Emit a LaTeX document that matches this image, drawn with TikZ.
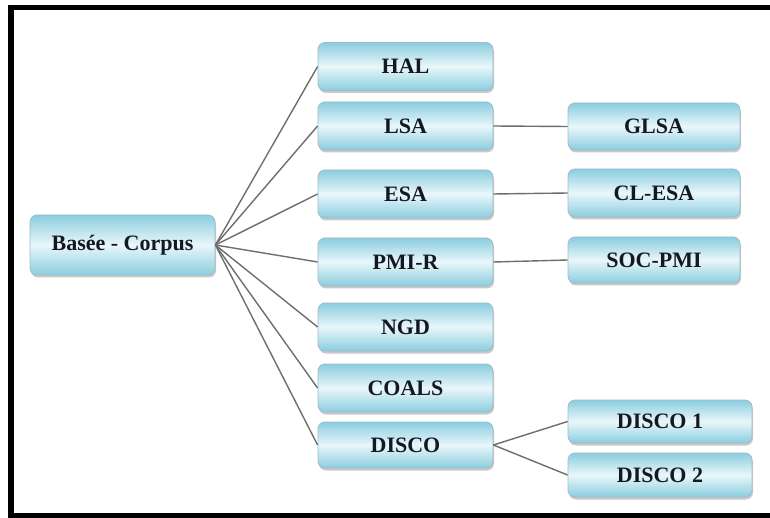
\documentclass[tikz,border=0pt]{standalone}
\usepackage{fontspec}
\setmainfont{Liberation Serif}
\usetikzlibrary{shadows}
\definecolor{boxedge}{HTML}{8ACDDF}
\definecolor{boxmid}{HTML}{E9F7FA}
\definecolor{boxline}{HTML}{9DBCC6}
\definecolor{linkgray}{HTML}{6E6E6E}
\definecolor{labelink}{HTML}{151822}
\tikzset{
  termbox/.style={draw=boxline, line width=0.8pt, rounded corners=7pt,
    top color=boxedge, bottom color=boxedge, middle color=boxmid,
    drop shadow={shadow xshift=1pt, shadow yshift=-2.5pt, opacity=0.35, fill=black!60},
    text=labelink, font=\fontsize{22}{25}\selectfont\bfseries,
    inner sep=0pt, minimum width=175pt, minimum height=48pt},
  link/.style={draw=linkgray, line width=1.4pt}
}
\begin{document}
\begin{tikzpicture}[x=1pt,y=-1pt]
  \useasboundingbox (0,0) rectangle (770,518);
  \clip (0,0) rectangle (770,518);
  \fill[white] (0,0) rectangle (770,518);
  % outer frame, open on the right
  \draw[line width=5.5pt, black] (800,7.5) -- (11,7.5) -- (11,515.5) -- (800,515.5);

  % root
  \node[termbox, minimum width=185pt, minimum height=60pt] (root) at (122.5,245) {Basée - Corpus};

  % first level
  \node[termbox] (hal)   at (405.5,66.5) {HAL};
  \node[termbox] (lsa)   at (405.5,126)  {LSA};
  \node[termbox] (esa)   at (405.5,194)  {ESA};
  \node[termbox] (pmir)  at (405.5,262)  {PMI-R};
  \node[termbox] (ngd)   at (405.5,327)  {NGD};
  \node[termbox] (coals) at (405.5,388)  {COALS};
  \node[termbox, minimum height=46pt] (disco) at (405.5,445) {DISCO};

  % second level
  \node[termbox, minimum width=172pt, minimum height=47pt] (glsa)   at (654,126.5) {GLSA};
  \node[termbox, minimum width=172pt] (clesa)  at (654,193)   {CL-ESA};
  \node[termbox, minimum width=172pt, minimum height=46pt] (socpmi) at (654,260)   {SOC-PMI};
  \node[termbox, minimum width=184pt, minimum height=43pt] (disco1) at (660,421.5) {DISCO 1};
  \node[termbox, minimum width=184pt, minimum height=44pt] (disco2) at (660,475)   {DISCO 2};

  % connectors
  \foreach \t in {hal,lsa,esa,pmir,ngd,coals,disco}
    \draw[link] (root.east) -- (\t.west);
  \draw[link] (lsa.east) -- (glsa.west);
  \draw[link] (esa.east) -- (clesa.west);
  \draw[link] (pmir.east) -- (socpmi.west);
  \draw[link] (disco.east) -- (disco1.west);
  \draw[link] (disco.east) -- (disco2.west);
\end{tikzpicture}
\end{document}
